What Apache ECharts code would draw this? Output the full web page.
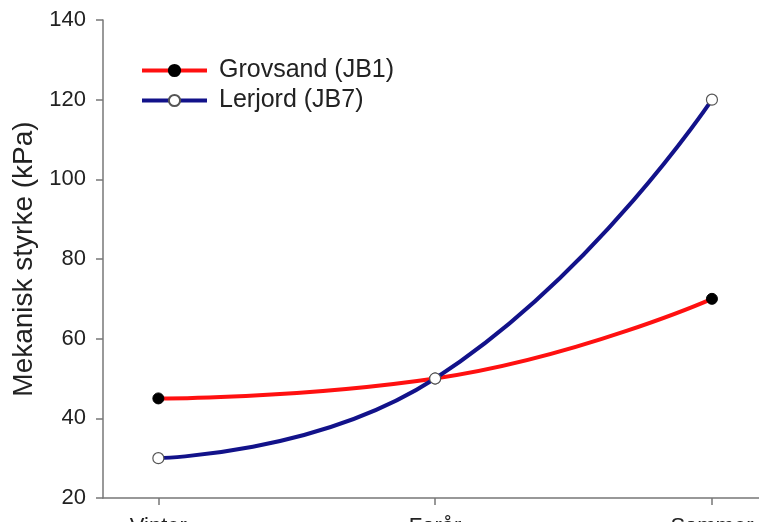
<!DOCTYPE html>
<html>
<head>
<meta charset="utf-8">
<script src="https://cdn.jsdelivr.net/npm/echarts@6/dist/echarts.min.js"></script>
<style>html,body{margin:0;padding:0;background:#fff}#c{width:759px;height:522px}</style>
</head>
<body>
<div id="c"></div>
<script>
var categories = ["Vinter", "Forår", "Sommer"];
var grovsand = [45, 50, 70];
var lerjord = [30, 50, 120];
var yTicks = [20, 40, 60, 80, 100, 120, 140];

function pts(vals){ return vals.map(function(v,i){ return [i, v]; }); }

var chart = echarts.init(document.getElementById('c'));
var font = 'Liberation Sans, Arial, sans-serif';
chart.setOption({
  animation: false,
  backgroundColor: '#fff',
  grid: { left: 103, top: 20, right: 0, bottom: 24, containLabel: false, outerBoundsMode: 'none' },
  legend: {
    orient: 'vertical', left: 135, top: 53, itemWidth: 65, itemHeight: 14, itemGap: 5,
    textStyle: { fontFamily: font, fontSize: 25, color: '#222', padding: [0, 0, 0, 7] },
    data: [
      { name: 'Grovsand (JB1)', lineStyle: { width: 4, color: '#ff1010' } },
      { name: 'Lerjord (JB7)', lineStyle: { width: 4, color: '#12128a' } }
    ]
  },
  xAxis: {
    type: 'value', min: -0.2, max: 2.17,
    splitLine: { show: false },
    axisLine: { show: true, onZero: false, lineStyle: { color: '#777', width: 1.5 } },
    axisTick: { show: true, length: 7, customValues: [0, 1, 2], lineStyle: { color: '#777', width: 1.5 } },
    axisLabel: { customValues: [0, 1, 2], margin: 18, fontFamily: font, fontSize: 22, color: '#222',
      formatter: function(v){ return categories[Math.round(v)] || ''; } }
  },
  yAxis: {
    type: 'value', min: 20, max: 140, interval: 20,
    name: 'Mekanisk styrke (kPa)', nameLocation: 'middle', nameGap: 62,
    nameTextStyle: { fontFamily: font, fontSize: 28, color: '#222' },
    splitLine: { show: false },
    axisLine: { show: true, onZero: false, lineStyle: { color: '#777', width: 1.5 } },
    axisTick: { show: true, length: 7, lineStyle: { color: '#777', width: 1.5 } },
    axisLabel: { margin: 17, fontFamily: font, fontSize: 22, color: '#222',
      formatter: function(v){ return yTicks.indexOf(v) >= 0 ? String(v) : ''; } }
  },
  series: [
    {
      name: 'Grovsand (JB1)', type: 'line', smooth: 0.5, data: pts(grovsand),
      symbol: 'circle', symbolSize: 11,
      lineStyle: { color: '#ff1010', width: 4 },
      itemStyle: { color: '#000', borderColor: '#000', borderWidth: 1 },
      color: '#ff1010', z: 2
    },
    {
      name: 'Lerjord (JB7)', type: 'line', smooth: 0.5, data: pts(lerjord),
      symbol: 'circle', symbolSize: 11,
      lineStyle: { color: '#12128a', width: 4 },
      itemStyle: { color: '#fff', borderColor: '#555', borderWidth: 1.2 },
      color: '#12128a', z: 3
    }
  ]
});
</script>
</body>
</html>
